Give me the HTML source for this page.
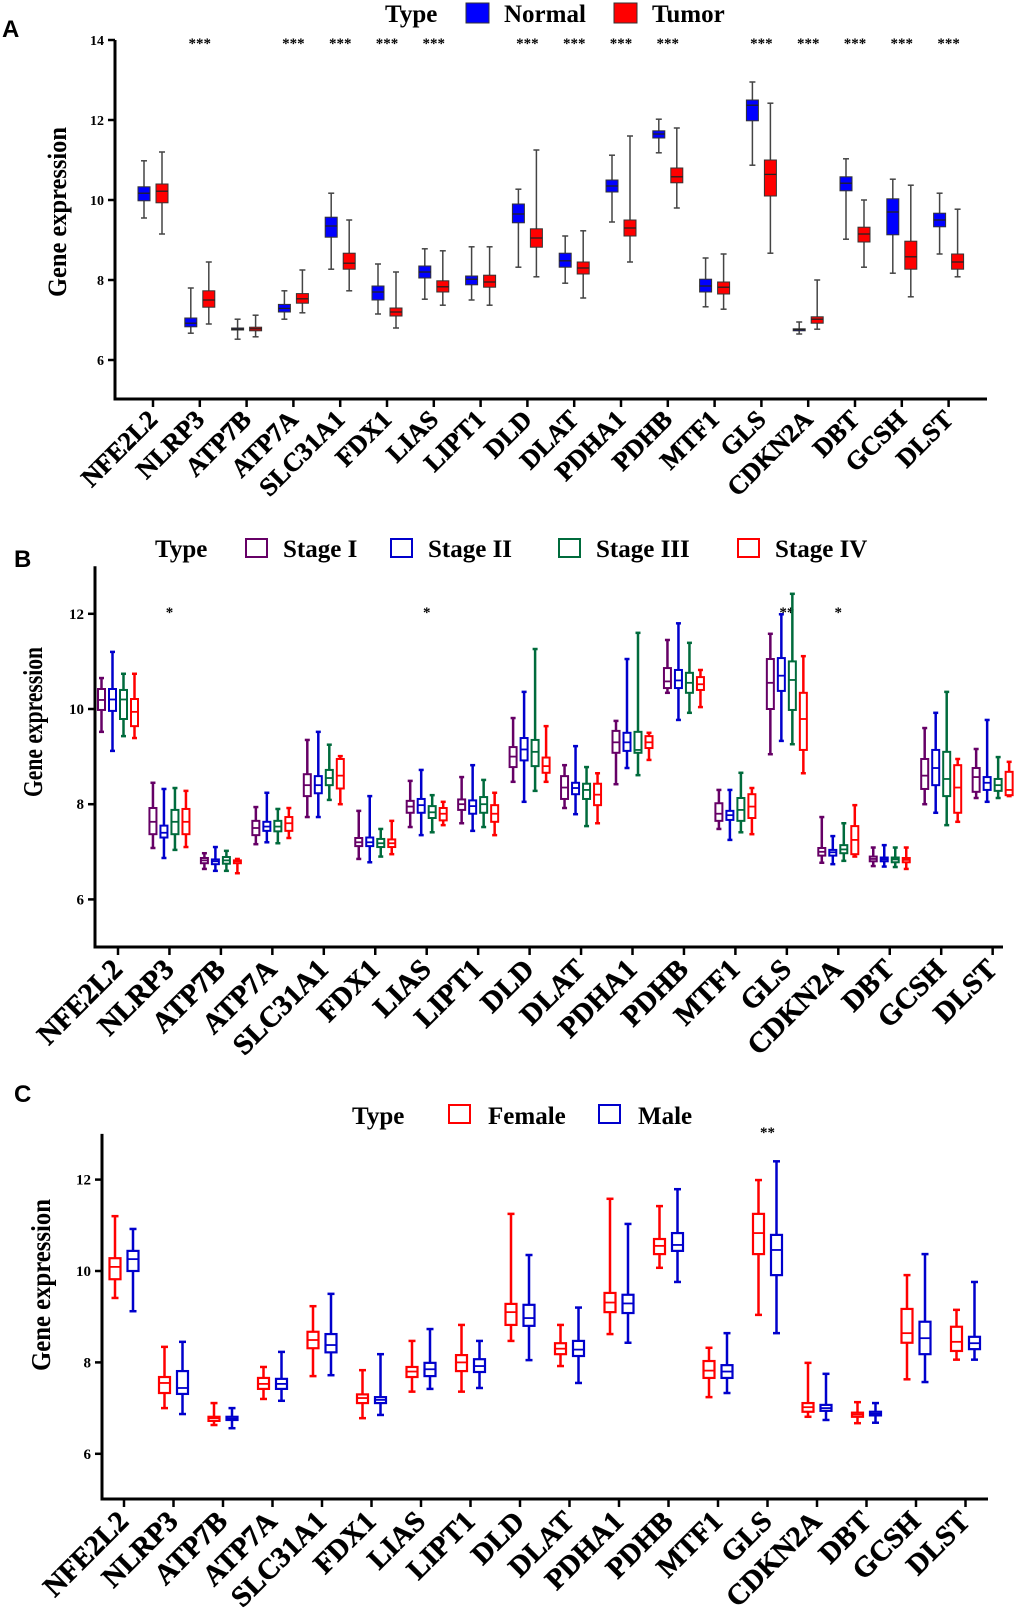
<!DOCTYPE html>
<html><head><meta charset="utf-8"><style>
body{margin:0;background:#fff}
svg text{font-family:"Liberation Serif",serif;font-weight:bold}
</style></head><body>
<svg id="fig" width="1020" height="1608" viewBox="0 0 1020 1608" xmlns="http://www.w3.org/2000/svg">
<text x="2" y="37" style="font-family:'Liberation Sans',sans-serif;font-size:24px">A</text>
<text x="14" y="567" style="font-family:'Liberation Sans',sans-serif;font-size:24px">B</text>
<text x="14" y="1102" style="font-family:'Liberation Sans',sans-serif;font-size:24px">C</text>
<g>
<text x="385" y="22" font-size="25">Type</text>
<rect x="466" y="3" width="23" height="20" fill="#0000ff" stroke="#333"/>
<text x="504" y="22" font-size="25">Normal</text>
<rect x="614" y="3" width="23" height="20" fill="#ff0000" stroke="#333"/>
<text x="652" y="22" font-size="25">Tumor</text>
</g>
<g>
<text x="155" y="557" font-size="25">Type</text>
<rect x="246" y="539" width="21" height="18" fill="none" stroke="#660066" stroke-width="2"/>
<text x="283" y="557" font-size="25">Stage I</text>
<rect x="391" y="539" width="21" height="18" fill="none" stroke="#0000cc" stroke-width="2"/>
<text x="428" y="557" font-size="25">Stage II</text>
<rect x="559" y="539" width="21" height="18" fill="none" stroke="#006b3c" stroke-width="2"/>
<text x="596" y="557" font-size="25">Stage III</text>
<rect x="738" y="539" width="21" height="18" fill="none" stroke="#ff0000" stroke-width="2"/>
<text x="775" y="557" font-size="25">Stage IV</text>
</g>
<g>
<text x="352" y="1124" font-size="25">Type</text>
<rect x="449" y="1105" width="21" height="18" fill="none" stroke="#ff0000" stroke-width="2"/>
<text x="488" y="1124" font-size="25">Female</text>
<rect x="599" y="1105" width="21" height="18" fill="none" stroke="#0000cc" stroke-width="2"/>
<text x="638" y="1124" font-size="25">Male</text>
</g>
</svg>
<script>
const genes=["NFE2L2","NLRP3","ATP7B","ATP7A","SLC31A1","FDX1","LIAS","LIPT1","DLD","DLAT","PDHA1","PDHB","MTF1","GLS","CDKN2A","DBT","GCSH","DLST"];
// [min, q1, median, q3, max]
const aNormal=[[9.55,9.98,10.17,10.33,10.98],[6.67,6.83,6.92,7.05,7.8],[6.52,6.75,6.77,6.8,7.02],[7.02,7.2,7.29,7.39,7.73],[8.27,9.07,9.35,9.57,10.17],[7.15,7.5,7.7,7.85,8.4],[7.52,8.05,8.2,8.35,8.78],[7.5,7.88,8.02,8.1,8.83],[8.32,9.43,9.65,9.9,10.27],[7.92,8.32,8.48,8.67,9.1],[9.45,10.2,10.35,10.5,11.12],[11.18,11.55,11.65,11.73,12.02],[7.33,7.7,7.85,8.02,8.55],[10.87,11.98,12.37,12.5,12.95],[6.65,6.73,6.76,6.78,6.95],[9.02,10.23,10.42,10.58,11.03],[8.17,9.13,9.7,10.03,10.52],[8.65,9.33,9.5,9.67,10.17]];
const aTumor=[[9.15,9.93,10.22,10.4,11.2],[6.9,7.32,7.5,7.73,8.45],[6.58,6.73,6.78,6.82,7.12],[7.18,7.42,7.53,7.66,8.25],[7.73,8.27,8.42,8.67,9.5],[6.8,7.1,7.2,7.3,8.2],[7.37,7.7,7.83,7.98,8.73],[7.37,7.82,7.95,8.12,8.83],[8.08,8.82,9.05,9.28,11.25],[7.55,8.15,8.3,8.45,9.23],[8.45,9.1,9.3,9.5,11.6],[9.8,10.43,10.58,10.8,11.8],[7.27,7.65,7.82,7.95,8.65],[8.67,10.1,10.64,11.0,12.42],[6.77,6.92,7.02,7.08,8.0],[8.32,8.95,9.15,9.32,10.0],[7.58,8.27,8.58,8.97,10.37],[8.08,8.27,8.45,8.65,9.77]];
const aSig=["","***","","***","***","***","***","","***","***","***","***","","***","***","***","***","***"];
const bStage1=[[9.52,9.98,10.19,10.42,10.65],[7.08,7.37,7.63,7.92,8.45],[6.64,6.76,6.82,6.87,6.97],[7.16,7.35,7.5,7.65,7.94],[7.73,8.17,8.4,8.63,9.35],[6.85,7.12,7.2,7.29,7.86],[7.52,7.82,7.95,8.07,8.49],[7.6,7.88,8.0,8.1,8.57],[8.47,8.78,9.0,9.2,9.81],[7.92,8.11,8.35,8.59,8.82],[8.42,9.08,9.3,9.54,9.75],[10.34,10.44,10.58,10.86,11.45],[7.48,7.65,7.8,8.02,8.3],[9.05,10.0,10.55,11.05,11.58],[6.77,6.92,7.0,7.08,7.73],[6.7,6.8,6.85,6.9,7.09],[8.0,8.32,8.6,8.95,9.6],[8.13,8.26,8.57,8.76,9.16]];
const bStage2=[[9.12,9.96,10.2,10.42,11.2],[6.87,7.3,7.4,7.55,8.32],[6.6,6.74,6.8,6.84,7.1],[7.2,7.44,7.53,7.63,8.24],[7.73,8.23,8.4,8.59,9.52],[6.78,7.12,7.2,7.3,8.17],[7.35,7.82,7.98,8.11,8.72],[7.44,7.8,7.96,8.08,8.82],[8.05,8.92,9.15,9.39,10.36],[7.79,8.21,8.34,8.45,9.22],[8.76,9.12,9.3,9.5,11.05],[9.77,10.44,10.6,10.82,11.8],[7.25,7.67,7.77,7.86,8.3],[9.33,10.38,10.7,11.07,11.99],[6.74,6.92,6.99,7.04,7.33],[6.69,6.8,6.84,6.88,7.14],[7.82,8.4,8.76,9.14,9.92],[8.05,8.3,8.45,8.57,9.77]];
const bStage3=[[9.43,9.79,10.2,10.4,10.74],[7.04,7.37,7.63,7.88,8.34],[6.6,6.75,6.82,6.89,7.02],[7.18,7.43,7.53,7.65,7.9],[8.09,8.4,8.55,8.72,9.25],[6.9,7.1,7.18,7.27,7.48],[7.41,7.71,7.83,7.96,8.19],[7.52,7.82,8.0,8.15,8.51],[8.28,8.8,9.1,9.35,11.26],[7.54,8.11,8.3,8.43,8.78],[8.61,9.08,9.14,9.52,11.6],[9.92,10.34,10.55,10.76,11.39],[7.41,7.65,7.88,8.13,8.66],[9.26,9.98,10.61,11.0,12.42],[6.81,6.97,7.05,7.14,7.6],[6.68,6.78,6.84,6.88,7.09],[7.56,8.17,8.53,9.1,10.36],[8.13,8.28,8.4,8.53,8.99]];
const bStage4=[[9.39,9.64,9.94,10.21,10.74],[7.1,7.37,7.63,7.9,8.28],[6.55,6.76,6.8,6.82,6.85],[7.29,7.44,7.6,7.73,7.92],[8.0,8.33,8.6,8.95,9.01],[6.95,7.1,7.18,7.26,7.65],[7.56,7.66,7.8,7.92,8.05],[7.35,7.63,7.8,7.98,8.24],[8.47,8.66,8.8,8.98,9.64],[7.6,7.98,8.2,8.43,8.65],[8.93,9.18,9.3,9.43,9.5],[10.04,10.4,10.52,10.67,10.82],[7.37,7.71,7.95,8.21,8.34],[8.65,9.14,9.79,10.34,11.11],[6.9,6.95,7.25,7.54,7.98],[6.64,6.78,6.83,6.87,7.09],[7.63,7.82,8.35,8.82,8.95],[8.17,8.19,8.3,8.68,8.89]];
const bSig=["","*","","","","","*","","","","","","","**","*","","",""];
const cFemale=[[9.41,9.82,10.09,10.28,11.2],[7.0,7.33,7.55,7.68,8.34],[6.63,6.72,6.78,6.81,7.11],[7.2,7.42,7.53,7.66,7.9],[7.7,8.31,8.49,8.67,9.23],[6.78,7.11,7.22,7.3,7.83],[7.36,7.68,7.8,7.9,8.47],[7.36,7.81,8.0,8.16,8.82],[8.47,8.82,9.1,9.28,11.25],[7.92,8.18,8.3,8.42,8.82],[8.62,9.1,9.31,9.52,11.58],[10.07,10.37,10.55,10.7,11.42],[7.24,7.66,7.82,8.03,8.32],[9.04,10.37,10.83,11.25,11.99],[6.81,6.92,7.02,7.11,7.99],[6.67,6.81,6.86,6.9,7.13],[7.63,8.43,8.64,9.17,9.91],[8.06,8.25,8.45,8.78,9.15]];
const cMale=[[9.12,10.0,10.26,10.44,10.92],[6.87,7.31,7.44,7.81,8.45],[6.56,6.74,6.77,6.81,7.0],[7.16,7.42,7.53,7.64,8.23],[7.72,8.22,8.38,8.62,9.5],[6.85,7.11,7.18,7.24,8.18],[7.42,7.7,7.85,7.99,8.73],[7.44,7.79,7.92,8.07,8.47],[8.05,8.8,8.97,9.26,10.35],[7.55,8.14,8.28,8.47,9.2],[8.43,9.08,9.29,9.48,11.03],[9.76,10.44,10.57,10.83,11.79],[7.33,7.66,7.8,7.94,8.64],[8.64,9.91,10.46,10.79,12.4],[6.74,6.94,7.0,7.07,7.75],[6.68,6.84,6.88,6.92,7.11],[7.57,8.18,8.53,8.89,10.37],[8.06,8.29,8.42,8.56,9.76]];
const cSig=["","","","","","","","","","","","","","**","","","",""];
const yTicksA=[6,8,10,12,14];
const yTicksB=[6,8,10,12];
const yTicksC=[6,8,10,12];

const NS="http://www.w3.org/2000/svg";
const svg=document.getElementById("fig");
function mk(tag,attrs,parent){const e=document.createElementNS(NS,tag);for(const k in attrs)e.setAttribute(k,attrs[k]);(parent||svg).appendChild(e);return e;}

function drawPanel(P){
  const g=mk("g",{});
  
  
  const y=v=>P.yRef-(v-10)*P.k;
  const cx=i=>P.x0+i*P.dx;
  const ax=mk("path",{d:`M${P.left} ${y(P.vTop)} V${P.bottom} H${P.right}`,fill:"none",stroke:"#000","stroke-width":3},g);
  
  
  P.ticks.forEach(t=>{
    mk("line",{x1:P.left-7,x2:P.left,y1:y(t),y2:y(t),stroke:"#000","stroke-width":2.5},g);
    const tl=mk("text",{x:P.left-11,y:y(t)+5,"text-anchor":"end","font-size":P.tickFont},g);
    tl.textContent=t;
    
    
  });
  const tt=mk("text",{transform:`translate(${P.titleX},${P.titleY}) rotate(-90)`,"text-anchor":"middle","font-size":P.titleFont,textLength:P.titleLen,lengthAdjust:"spacingAndGlyphs"},g);
  tt.textContent="Gene expression";
  
  
  genes.forEach((gn,i)=>{
    const x=cx(i);
    mk("line",{x1:x,x2:x,y1:P.bottom,y2:P.bottom+8,stroke:"#000","stroke-width":2.5},g);
    const lb=mk("text",{transform:`translate(${x+6},${P.bottom+P.labDy}) rotate(-45)`,"text-anchor":"end","font-size":P.labFont,stroke:"#000","stroke-width":0.5},g);
    lb.textContent=gn;
    
    
    if(P.sig[i]){
      const st=mk("text",{x:x,y:P.sigY,"text-anchor":"middle","font-size":15,"font-weight":"normal"},g);
      st.textContent=P.sig[i];
      
      
    }
    P.series.forEach((s,j)=>{
      const d=s.data[i];const bx=x+P.offs[j];const w=P.bw;
      const bg=mk("g",{},g);
      
      
      const wc=P.filled?"#444":s.color;
      mk("line",{x1:bx,x2:bx,y1:y(d[0]),y2:y(d[4]),stroke:wc,"stroke-width":P.ws},bg);
      mk("line",{x1:bx-P.cap,x2:bx+P.cap,y1:y(d[0]),y2:y(d[0]),stroke:wc,"stroke-width":P.ws},bg);
      mk("line",{x1:bx-P.cap,x2:bx+P.cap,y1:y(d[4]),y2:y(d[4]),stroke:wc,"stroke-width":P.ws},bg);
      const h=Math.max(y(d[1])-y(d[3]),1.5);
      mk("rect",{x:bx-w/2,y:y(d[3]),width:w,height:h,fill:P.filled?s.color:"#fff",stroke:P.filled?"#333":s.color,"stroke-width":P.filled?1:P.bs},bg);
      mk("line",{x1:bx-w/2,x2:bx+w/2,y1:y(d[2]),y2:y(d[2]),stroke:P.filled?"#222":s.color,"stroke-width":P.filled?1.3:1.8},bg);
    });
  });
}
drawPanel({name:"panel-a",left:115,right:987,bottom:399,vTop:14,yRef:200,k:40,x0:153,dx:46.8,offs:[-9,9],bw:12,filled:true,ws:1.5,cap:3,bs:1,ticks:yTicksA,tickFont:14,titleX:66,titleY:212,titleFont:26,titleLen:170,labDy:22,labFont:26,sig:aSig,sigY:48,
  series:[{key:"normal",color:"#0000ff",data:aNormal},{key:"tumor",color:"#ff0000",data:aTumor}]});
drawPanel({name:"panel-b",left:95,right:1003,bottom:947,vTop:13,yRef:709,k:47.6,x0:118,dx:51.45,offs:[-16.5,-5.5,5.5,16.5],bw:7,filled:false,ws:2.5,cap:2.5,bs:2,ticks:yTicksB,tickFont:15,titleX:42,titleY:722,titleFont:27,titleLen:150,labDy:24,labFont:29,sig:bSig,sigY:617,
  series:[{key:"stage1",color:"#660066",data:bStage1},{key:"stage2",color:"#0000cc",data:bStage2},{key:"stage3",color:"#006b3c",data:bStage3},{key:"stage4",color:"#ff0000",data:bStage4}]});
drawPanel({name:"panel-c",left:102,right:988,bottom:1499,vTop:13,yRef:1271,k:45.7,x0:124,dx:49.5,offs:[-9,9],bw:11,filled:false,ws:2.5,cap:3.5,bs:2.2,ticks:yTicksC,tickFont:15,titleX:50,titleY:1285,titleFont:27,titleLen:172,labDy:24,labFont:29,sig:cSig,sigY:1137,
  series:[{key:"female",color:"#ff0000",data:cFemale},{key:"male",color:"#0000cc",data:cMale}]});
</script>
</body></html>
